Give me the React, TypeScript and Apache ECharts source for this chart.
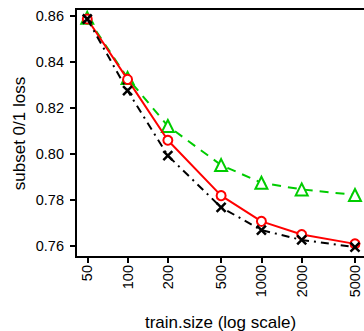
import React, { useEffect, useRef } from "react";
import * as echarts from "echarts";

const trainSizes = [50, 100, 200, 500, 1000, 2000, 5000];
const redLoss = [0.8587, 0.8324, 0.8059, 0.7818, 0.7706, 0.7649, 0.7608];
const greenLoss = [0.8592, 0.833, 0.8121, 0.7951, 0.7874, 0.7845, 0.7821];
const blackLoss = [0.8587, 0.8275, 0.7992, 0.7767, 0.7668, 0.7625, 0.7594];
const yTicks = [0.76, 0.78, 0.8, 0.82, 0.84, 0.86];
const xTicks = [50, 100, 200, 500, 1000, 2000, 5000];

const FONT = "'Liberation Sans', Arial, Helvetica, sans-serif";

const pairs = (ys: number[]) => trainSizes.map((x, i) => [x, ys[i]]);

export default function App() {
  const ref = useRef<HTMLDivElement>(null);
  useEffect(() => {
    if (!ref.current) return;
    const chart = echarts.init(ref.current, null, { renderer: "svg" });
    chart.setOption({
      animation: false,
      backgroundColor: "#ffffff",
      textStyle: { fontFamily: FONT },
      grid: {
        left: 76,
        top: 9,
        right: 0,
        bottom: 74,
        show: true,
        borderColor: "#000",
        borderWidth: 2,
        containLabel: false,
        outerBoundsMode: "none",
      },
      xAxis: {
        type: "log",
        logBase: 10,
        min: 41.2,
        max: 6474,
        axisLine: { show: false },
        splitLine: { show: false },
        minorTick: { show: false },
        axisTick: {
          show: true,
          length: 6,
          lineStyle: { color: "#000", width: 2 },
          customValues: xTicks,
        },
        axisLabel: {
          rotate: 90,
          margin: 8,
          color: "#000",
          fontSize: 14.5,
          fontFamily: FONT,
          customValues: xTicks,
          formatter: (v: number) => String(Math.round(v)),
        },
      },
      yAxis: {
        type: "value",
        min: 0.75508,
        max: 0.86305,
        axisLine: { show: false },
        splitLine: { show: false },
        axisTick: {
          show: true,
          length: 6,
          lineStyle: { color: "#000", width: 2 },
          customValues: yTicks,
        },
        axisLabel: {
          margin: 12,
          color: "#000",
          fontSize: 14.5,
          fontFamily: FONT,
          customValues: yTicks,
          formatter: (v: number) => v.toFixed(2),
        },
      },
      graphic: [
        {
          type: "text",
          x: 220.5,
          y: 322,
          style: {
            text: "train.size (log scale)",
            fill: "#000",
            font: `17px ${FONT}`,
            align: "center",
            verticalAlign: "middle",
          },
        },
        {
          type: "text",
          x: 19,
          y: 133.5,
          rotation: Math.PI / 2,
          style: {
            text: "subset 0/1 loss",
            fill: "#000",
            font: `17px ${FONT}`,
            align: "center",
            verticalAlign: "middle",
          },
        },
      ],
      series: [
        {
          type: "line",
          data: pairs(greenLoss),
          symbol: "emptyTriangle",
          symbolSize: 12,
          lineStyle: { color: "#00cc00", width: 2, type: [9, 7] },
          itemStyle: { color: "#00cc00", borderColor: "#00cc00", borderWidth: 2 },
          z: 2,
        },
        {
          type: "line",
          data: pairs(redLoss),
          symbol: "emptyCircle",
          symbolSize: 9,
          lineStyle: { color: "#ff0000", width: 2 },
          itemStyle: { color: "#ff0000", borderColor: "#ff0000", borderWidth: 2 },
          z: 3,
        },
        {
          type: "line",
          data: pairs(blackLoss),
          symbol: "path://M0,0L10,10M10,0L0,10",
          symbolSize: 9,
          lineStyle: { color: "#000", width: 2, type: [8, 5, 2, 5] },
          itemStyle: { color: "#000", borderColor: "#000", borderWidth: 2.5 },
          z: 4,
        },
      ],
    });
    return () => chart.dispose();
  }, []);
  return (
    <div
      ref={ref}
      style={{ position: "fixed", left: 0, top: 0, width: 370, height: 331 }}
    />
  );
}
